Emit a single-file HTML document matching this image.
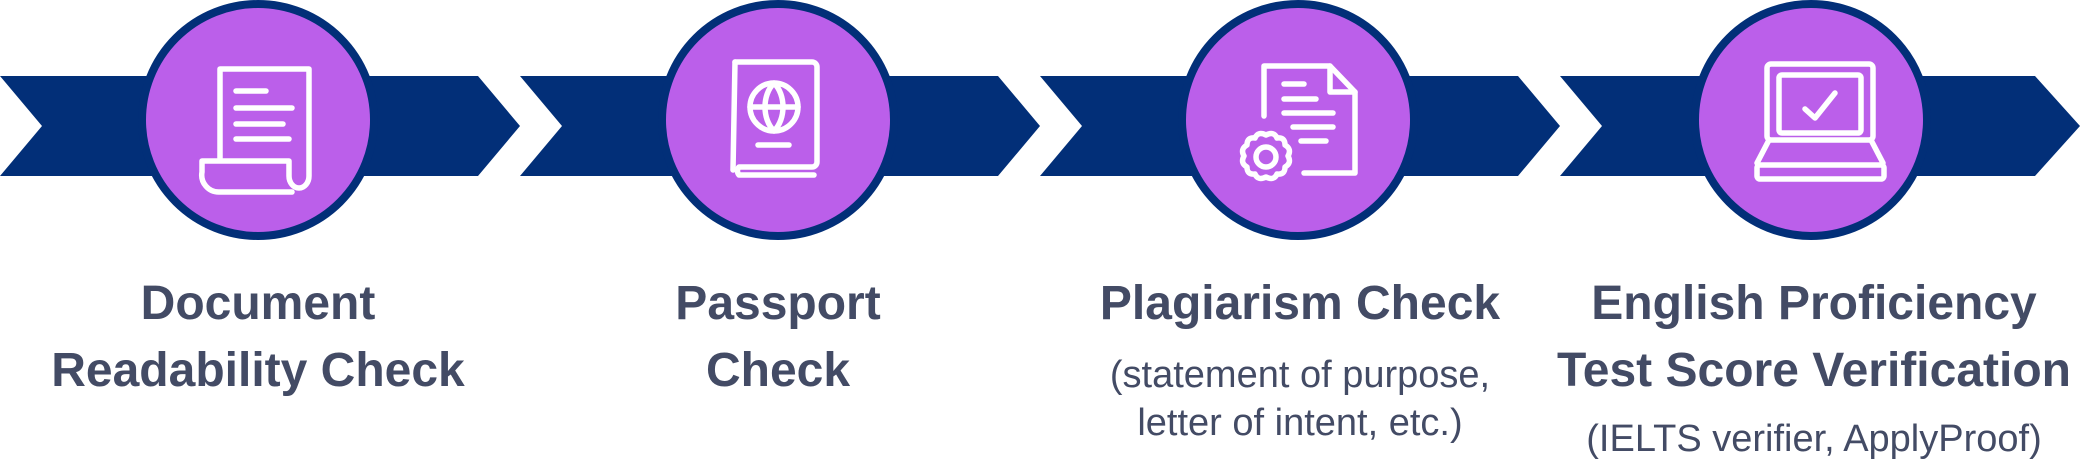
<!DOCTYPE html>
<html><head><meta charset="utf-8"><style>
html,body{margin:0;padding:0;background:#fff;}
svg{display:block;}
.b{font-family:"Liberation Sans",sans-serif;font-weight:bold;font-size:48px;fill:#434b65;}
.r{font-family:"Liberation Sans",sans-serif;font-size:38px;fill:#434b65;}
</style></head><body>
<svg width="2080" height="468" viewBox="0 0 2080 468" xmlns="http://www.w3.org/2000/svg">
<g fill="#022f78">
<polygon points="0,76 478,76 520,126 478,176 0,176 42,126"/>
<polygon points="520,76 998,76 1040,126 998,176 520,176 562,126"/>
<polygon points="1040,76 1518,76 1560,126 1518,176 1040,176 1082,126"/>
<polygon points="1560,76 2035,76 2080,126 2035,176 1560,176 1602,126"/>
</g>
<g fill="#bb5fea" stroke="#022f78" stroke-width="8">
<circle cx="258" cy="120" r="116"/>
<circle cx="778" cy="120" r="116"/>
<circle cx="1298" cy="120" r="116"/>
<circle cx="1811" cy="120" r="116"/>
</g>
<g fill="none" stroke="#fff" stroke-width="5.5" stroke-linecap="round" stroke-linejoin="round">
<!-- icon1 -->
<g transform="translate(-4,0)">
<path d="M224,158 V69 H313 V176 a10,12 0 0 1 -20,0 V161 H206 V172 a17,17 0 0 0 17,20 H296"/>
<path d="M240,91 H270 M240,108 H296 M240,124 H287 M240,139 H293"/>
</g>
<!-- icon2 -->
<g transform="translate(-6,0)">
<path d="M741,62 H818 a5,5 0 0 1 5,5 V162 a5,5 0 0 1 -5,5 H745 a6,6 0 0 0 0,8 H820"/>
<path d="M741,62 L739,170"/>
<circle cx="780" cy="107" r="24"/>
<path d="M756,107 H804 M780,83 C768,95 768,119 780,131 C792,119 792,95 780,83"/>
<path d="M764,145 H795"/>
</g>
<!-- icon3 -->
<path d="M1264,116 V66 H1330 L1355,92 V173 H1304"/>
<path d="M1330,66 V92 H1355"/>
<path d="M1284,84 H1304 M1284,99 H1316 M1284,113 H1333 M1293,127 H1333 M1301,141 H1326"/>
<path d="M1266,135 q8,-4 11,3 q8,-1 8,7 q7,4 3,11 q4,7 -3,11 q0,8 -8,7 q-3,7 -11,3 q-8,4 -11,-3 q-8,1 -8,-7 q-7,-4 -3,-11 q-4,-7 3,-11 q0,-8 8,-7 q3,-7 11,-3 z"/>
<circle cx="1266" cy="157" r="10"/>
<!-- icon4 -->
<rect x="1767" y="64" width="106" height="76" rx="4"/>
<rect x="1779" y="75" width="82" height="58" rx="3"/>
<path d="M1769,140 L1757,163 M1871,140 L1883,163"/>
<rect x="1757" y="165" width="127" height="14" rx="3"/>
<path d="M1805,109 L1815,118 L1835,93"/>
</g>
<g text-anchor="middle">
<text class="b" x="258" y="319">Document</text>
<text class="b" x="258" y="386">Readability Check</text>
<text class="b" x="778" y="319">Passport</text>
<text class="b" x="778" y="386">Check</text>
<text class="b" x="1300" y="319">Plagiarism Check</text>
<text class="r" x="1300" y="387">(statement of purpose,</text>
<text class="r" x="1300" y="435">letter of intent, etc.)</text>
<text class="b" x="1814" y="319">English Proficiency</text>
<text class="b" x="1814" y="386">Test Score Verification</text>
<text class="r" x="1814" y="451">(IELTS verifier, ApplyProof)</text>
</g>
</svg>
</body></html>
